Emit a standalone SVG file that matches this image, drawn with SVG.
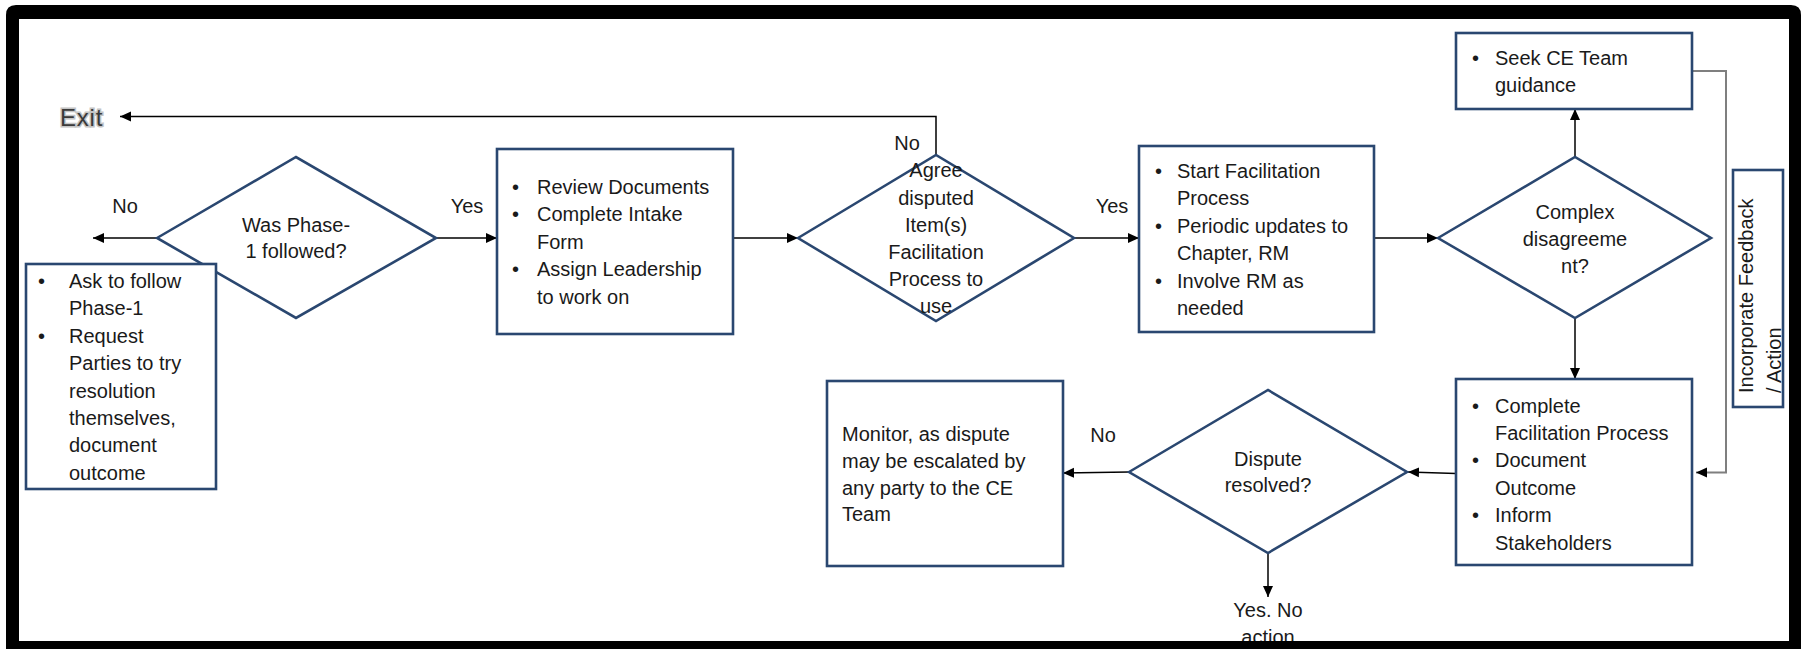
<svg xmlns="http://www.w3.org/2000/svg" width="1801" height="649" viewBox="0 0 1801 649">
<style>
.shape{fill:#ffffff;stroke:#2A4770;stroke-width:2.6}
.t{font-family:"Liberation Sans",Arial,sans-serif;font-size:20px;fill:#1a1a1a}
.c{text-anchor:middle}
.conn{fill:none;stroke:#000;stroke-width:1.5}
.fb{fill:none;stroke:#7f7f7f;stroke-width:2}
</style>
<defs>
<marker id="arr" markerUnits="userSpaceOnUse" markerWidth="12" markerHeight="12" viewBox="0 0 12 12" refX="11" refY="6" orient="auto">
<path d="M0,1 L11,6 L0,11 z" fill="#000"/>
</marker>
</defs>
<rect x="0" y="0" width="1801" height="649" fill="#fff"/>

<g id="connectors">
<path class="conn" d="M157,238 H93" marker-end="url(#arr)"/>
<path class="conn" d="M436,238 H497" marker-end="url(#arr)"/>
<path class="conn" d="M733,238 H798" marker-end="url(#arr)"/>
<path class="conn" d="M936,155 V116.5 H120" marker-end="url(#arr)"/>
<path class="conn" d="M1074,238 H1139" marker-end="url(#arr)"/>
<path class="conn" d="M1374,238 H1438" marker-end="url(#arr)"/>
<path class="conn" d="M1575,157 V109" marker-end="url(#arr)"/>
<path class="conn" d="M1575,318 V379" marker-end="url(#arr)"/>
<path class="fb" d="M1692,71 H1726 V472.5 H1696" marker-end="url(#arr)"/>
<path class="conn" d="M1456,473.5 L1408,472" marker-end="url(#arr)"/>
<path class="conn" d="M1129,472 L1063,473" marker-end="url(#arr)"/>
<path class="conn" d="M1268,553 V597" marker-end="url(#arr)"/>
</g>

<g id="exit">
<text x="60" y="126" font-family="Liberation Sans,Arial,sans-serif" font-size="24" letter-spacing="0.8" fill="none" stroke="#c4c4c4" stroke-width="3">Exit</text>
<text x="60" y="126" font-family="Liberation Sans,Arial,sans-serif" font-size="24" letter-spacing="0.8" fill="#3a3a3a">Exit</text>
</g>

<g id="labels">
<text class="t c" x="125" y="213">No</text>
<text class="t c" x="467" y="213">Yes</text>
<text class="t c" x="907" y="150">No</text>
<text class="t c" x="1112" y="213">Yes</text>
<text class="t c" x="1103" y="442">No</text>
<text class="t c" x="1268" y="617">Yes. No</text>
<text class="t c" x="1268" y="644">action</text>
</g>

<g id="d1">
<polygon class="shape" points="157,238 296,157 436,238 296,318"/>
<text class="t c" x="296" y="232">Was Phase-</text>
<text class="t c" x="296" y="258">1 followed?</text>
</g>

<g id="ask">
<rect class="shape" x="26" y="264" width="190" height="225"/>
<text class="t" x="38" y="288">•</text>
<text class="t" x="69" y="288">Ask to follow</text>
<text class="t" x="69" y="315.4">Phase-1</text>
<text class="t" x="38" y="342.8">•</text>
<text class="t" x="69" y="342.8">Request</text>
<text class="t" x="69" y="370.2">Parties to try</text>
<text class="t" x="69" y="397.6">resolution</text>
<text class="t" x="69" y="425">themselves,</text>
<text class="t" x="69" y="452.4">document</text>
<text class="t" x="69" y="479.8">outcome</text>
</g>

<g id="review">
<rect class="shape" x="497" y="149" width="236" height="185"/>
<text class="t" x="512" y="194">•</text>
<text class="t" x="537" y="194">Review Documents</text>
<text class="t" x="512" y="221.4">•</text>
<text class="t" x="537" y="221.4">Complete Intake</text>
<text class="t" x="537" y="248.8">Form</text>
<text class="t" x="512" y="276.2">•</text>
<text class="t" x="537" y="276.2">Assign Leadership</text>
<text class="t" x="537" y="303.6">to work on</text>
</g>

<g id="d2">
<polygon class="shape" points="798,238 936,155 1074,238 936,321"/>
<text class="t c" x="936" y="177">Agree</text>
<text class="t c" x="936" y="204.5">disputed</text>
<text class="t c" x="936" y="231.5">Item(s)</text>
<text class="t c" x="936" y="258.5">Facilitation</text>
<text class="t c" x="936" y="285.5">Process to</text>
<text class="t c" x="936" y="312.5">use</text>
</g>

<g id="start">
<rect class="shape" x="1139" y="146" width="235" height="186"/>
<text class="t" x="1155" y="178">•</text>
<text class="t" x="1177" y="178">Start Facilitation</text>
<text class="t" x="1177" y="205.4">Process</text>
<text class="t" x="1155" y="232.8">•</text>
<text class="t" x="1177" y="232.8">Periodic updates to</text>
<text class="t" x="1177" y="260.2">Chapter, RM</text>
<text class="t" x="1155" y="287.6">•</text>
<text class="t" x="1177" y="287.6">Involve RM as</text>
<text class="t" x="1177" y="315">needed</text>
</g>

<g id="d3">
<polygon class="shape" points="1438,238 1575,157 1711,238 1575,318"/>
<text class="t c" x="1575" y="219">Complex</text>
<text class="t c" x="1575" y="246">disagreeme</text>
<text class="t c" x="1575" y="273">nt?</text>
</g>

<g id="seek">
<rect class="shape" x="1456" y="33" width="236" height="76"/>
<text class="t" x="1472" y="64.5">•</text>
<text class="t" x="1495" y="64.5">Seek CE Team</text>
<text class="t" x="1495" y="92">guidance</text>
</g>

<g id="feedback">
<rect class="shape" x="1733" y="170" width="50" height="237"/>
<text class="t" transform="translate(1753,393) rotate(-90)">Incorporate Feedback</text>
<text class="t" transform="translate(1781,393) rotate(-90)">/ Action</text>
</g>

<g id="complete">
<rect class="shape" x="1456" y="379" width="236" height="186"/>
<text class="t" x="1472" y="412.5">•</text>
<text class="t" x="1495" y="412.5">Complete</text>
<text class="t" x="1495" y="440">Facilitation Process</text>
<text class="t" x="1472" y="467.3">•</text>
<text class="t" x="1495" y="467.3">Document</text>
<text class="t" x="1495" y="494.7">Outcome</text>
<text class="t" x="1472" y="522">•</text>
<text class="t" x="1495" y="522">Inform</text>
<text class="t" x="1495" y="549.5">Stakeholders</text>
</g>

<g id="d4">
<polygon class="shape" points="1129,472 1268,390 1407,472 1268,553"/>
<text class="t c" x="1268" y="465.5">Dispute</text>
<text class="t c" x="1268" y="492">resolved?</text>
</g>

<g id="monitor">
<rect class="shape" x="827" y="381" width="236" height="185"/>
<text class="t" x="842" y="441">Monitor, as dispute</text>
<text class="t" x="842" y="468">may be escalated by</text>
<text class="t" x="842" y="494.5">any party to the CE</text>
<text class="t" x="842" y="521">Team</text>
</g>

<path id="frame" fill="#000" fill-rule="evenodd" d="M16,5 H1791 Q1801,5 1801,15 V649 H6 V15 Q6,5 16,5 Z M19,19 V641 H1789 V19 Z"/>
</svg>
